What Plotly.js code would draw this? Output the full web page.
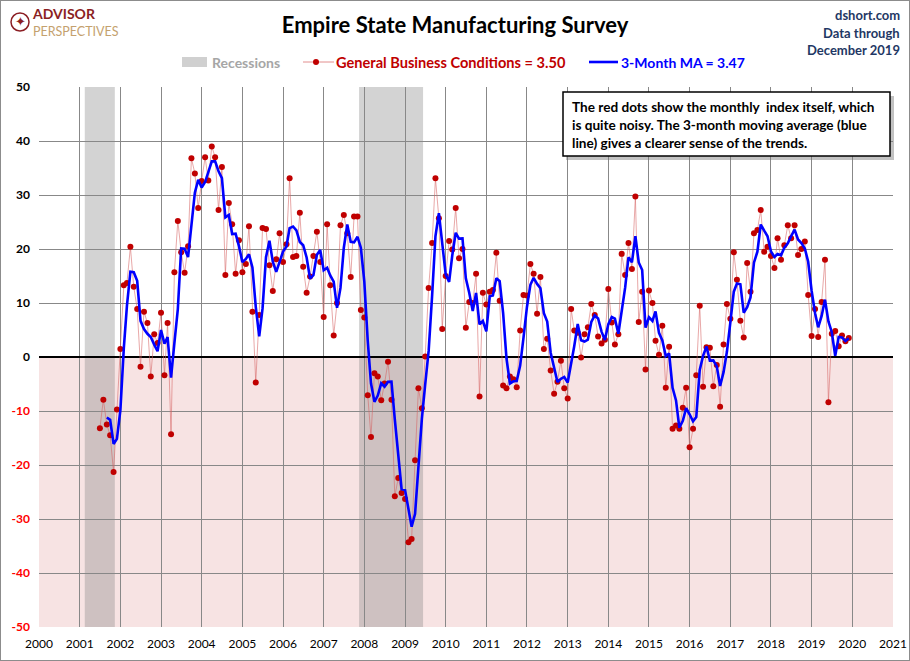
<!DOCTYPE html>
<html><head><meta charset="utf-8">
<script src="https://cdn.plot.ly/plotly-3.0.1.min.js"></script>
<style>
body{margin:0;background:#fff;}
#chart{width:908px;height:659px;border:1px solid #8c8c8c;}
</style>
</head><body><div id="chart"></div>
<script>
// General Business Conditions, monthly values (index), first series starts July 2001
const startYear = 2001, startMonth = 7;
const gbc2001 = [-13.2,-7.9,-12.5,-14.5,-21.3,-9.7];
const gbc2002 = [1.5,13.3,13.7,20.4,13.0,8.9,-1.8,8.4,6.3,-3.6,4.2,2.6];
const gbc2003 = [8.2,-3.4,6.3,-14.3,15.7,25.2,19.4,15.6,20.5,36.8,34.0,27.6];
const gbc2004 = [32.6,37.0,32.7,39.0,37.0,27.2,35.2,15.2,28.5,24.6,15.4,21.6];
const gbc2005 = [15.7,17.2,24.2,8.4,-4.7,7.8,23.9,23.7,17.0,12.2,18.1,22.9];
const gbc2006 = [17.6,20.9,33.1,18.5,18.7,26.7,16.7,11.9,14.9,18.7,23.2,17.6];
const gbc2007 = [7.4,24.6,13.3,4.0,10.0,24.4,26.3,22.9,14.8,26.0,26.0,8.7];
const gbc2008 = [7.3,-7.1,-14.8,-3.0,-3.6,-8.0,-4.9,-0.9,-7.9,-25.8,-22.4,-25.2];
const gbc2009 = [-26.3,-34.3,-33.7,-19.1,-5.8,-9.5,0.1,12.8,21.1,33.1,25.7,5.2];
const gbc2010 = [15.0,21.5,19.9,27.6,18.3,20.0,5.4,10.2,10.0,15.4,-7.3,11.9];
const gbc2011 = [9.7,12.1,12.4,19.3,10.4,-5.3,-5.8,-3.6,-4.1,-5.6,4.9,11.5];
const gbc2012 = [11.4,17.2,15.4,8.0,14.8,1.5,3.4,-2.5,-6.8,-4.6,-0.7,-5.8];
const gbc2013 = [-7.7,8.9,4.9,4.5,-0.1,4.2,5.5,9.8,7.8,3.8,2.5,3.2];
const gbc2014 = [12.6,6.4,2.3,4.2,19.1,15.2,21.1,16.3,29.7,6.5,12.1,-2.3];
const gbc2015 = [12.3,10.0,3.0,0.4,5.8,-5.7,1.9,-13.3,-12.7,-13.3,-9.4,-5.7];
const gbc2016 = [-16.7,-13.3,-3.4,9.5,-5.5,1.8,1.7,-5.4,-1.5,-9.2,2.3,9.8];
const gbc2017 = [7.1,19.4,14.3,6.7,3.6,17.4,12.1,22.9,23.5,27.2,19.5,20.4];
const gbc2018 = [18.7,16.5,22.0,18.0,20.7,24.4,22.0,24.4,18.9,20.0,21.4,11.5];
const gbc2019 = [3.9,8.9,3.7,10.2,18.0,-8.4,4.3,4.8,2.0,4.0,2.9,3.5];

// Recession periods
const recessionStarts = ['2001-02-15','2007-11-15'];
const recessionEnds   = ['2001-11-12','2009-06-12'];

// Axis ticks
const yTickVals = [-50,-40,-30,-20,-10,0,10,20,30,40,50];

// Text
const titleText = 'Empire State Manufacturing Survey';
const legendRec = 'Recessions';
const legendGbc = 'General Business Conditions = 3.50';
const legendMa = '3-Month MA = 3.47';
const sourceLines = ['dshort.com','Data through','December 2019'];
const noteLines = ['The red dots show the monthly  index itself, which',
                   'is quite noisy. The 3-month moving average (blue',
                   'line) gives a clearer sense of the trends.'];

// ---- build series ----
const values = [].concat(gbc2001,gbc2002,gbc2003,gbc2004,gbc2005,gbc2006,gbc2007,gbc2008,gbc2009,gbc2010,
  gbc2011,gbc2012,gbc2013,gbc2014,gbc2015,gbc2016,gbc2017,gbc2018,gbc2019);
const dates = values.map((v,i)=>{
  const m0 = (startMonth-1)+i;
  const y = startYear + Math.floor(m0/12);
  const m = (m0%12)+1;
  return y + '-' + String(m).padStart(2,'0') + '-01';
});
// 3-month trailing moving average of the monthly values
const ma3 = values.map((v,i)=> i<2 ? null : (values[i-2]+values[i-1]+values[i])/3);

const FONT = 'Lato, "Open Sans", Arial, sans-serif';
const L=38, R=16, T=86, B=33, W=908, H=659;
const pw = W-L-R, ph = H-T-B;
const px = x => (x-1-L)/pw;
const py = y => 1-(y-1-T)/ph;

const yTickText = yTickVals.map(v => v<0 ? '<span style="color:#FF0000"><b>'+v+'</b></span>' : '<b>'+v+'</b>');

const traces = [
  {x:dates, y:values, type:'scatter', mode:'lines+markers',
   line:{color:'rgba(214,96,96,0.55)', width:1},
   marker:{color:'#C00000', size:6}, hoverinfo:'skip'},
  {x:dates, y:ma3, type:'scatter', mode:'lines',
   line:{color:'#0000FF', width:2.6}, hoverinfo:'skip'}
];

const shapes = [
  {type:'rect', layer:'below', xref:'paper', yref:'y', x0:0, x1:1, y0:-50, y1:0,
   fillcolor:'#F7E3E3', line:{width:0}}
];
recessionStarts.forEach((s,i)=>{
  shapes.push({type:'rect', layer:'below', xref:'x', yref:'paper', x0:s, x1:recessionEnds[i], y0:0, y1:1,
    fillcolor:'rgba(140,140,140,0.38)', line:{width:0}});
});
// legend marks
shapes.push({type:'rect', xref:'paper', yref:'paper', x0:px(182), x1:px(207), y0:py(67), y1:py(57),
  fillcolor:'#D0D0D0', line:{width:0}});
shapes.push({type:'line', xref:'paper', yref:'paper', x0:px(303), x1:px(334), y0:py(62), y1:py(62),
  line:{color:'rgba(214,96,96,0.7)', width:1}});
shapes.push({type:'circle', xref:'paper', yref:'paper', x0:px(313), x1:px(319), y0:py(65), y1:py(59),
  fillcolor:'#C00000', line:{width:0}});
shapes.push({type:'line', xref:'paper', yref:'paper', x0:px(589), x1:px(618), y0:py(62), y1:py(62),
  line:{color:'#0000FF', width:2.6}});
// note box with shadow
shapes.push({type:'rect', xref:'paper', yref:'paper', x0:px(566), x1:px(894), y0:py(160), y1:py(96),
  fillcolor:'rgba(120,120,120,0.45)', line:{width:0}});
shapes.push({type:'rect', xref:'paper', yref:'paper', x0:px(563), x1:px(890), y0:py(156), y1:py(92),
  fillcolor:'#FFFFFF', line:{color:'#000', width:1.5}});
// logo circle
shapes.push({type:'circle', xref:'paper', yref:'paper', x0:px(11), x1:px(29), y0:py(31), y1:py(13),
  fillcolor:'rgba(0,0,0,0)', line:{color:'#8B1E23', width:1.5}});

const annotations = [];
const ann = (text,x,y,opts) => annotations.push(Object.assign({text:text, x:px(x), y:py(y), xref:'paper', yref:'paper',
  showarrow:false, xanchor:'left', yanchor:'middle'}, opts||{}));

ann('<b>'+legendRec+'</b>', 210, 62, {font:{family:FONT, size:14, color:'#A6A6A6'}});
ann('<b>'+legendGbc+'</b>', 334, 62, {font:{family:FONT, size:14.6, color:'#C00000'}});
ann('<b>'+legendMa+'</b>', 619, 62, {font:{family:FONT, size:14, color:'#0000FF'}});
sourceLines.forEach((t,i)=> ann('<b>'+t+'</b>', 902, [15,33,50][i], {xanchor:'right', font:{family:FONT, size:13, color:'#1F3864'}}));
noteLines.forEach((t,i)=> ann('<b>'+t+'</b>', 570, [107,125,143][i], {font:{family:FONT, size:13.6, color:'#000'}}));
ann('<span style="color:#8B1E23;font-size:14px"><b>ADVISOR</b></span><br><span style="color:#C4A16E;font-size:12.5px">PERSPECTIVES</span>',
  31, 22, {align:'left', borderpad:0, font:{family:FONT, size:13, color:'#8B1E23'}});
ann('✦', 20, 22, {xanchor:'center', font:{family:'DejaVu Sans', size:13, color:'#8B1E23'}});

const layout = {
  width:W, height:H,
  margin:{l:L, r:R, t:T, b:B, pad:0},
  paper_bgcolor:'#FFFFFF', plot_bgcolor:'#FFFFFF',
  showlegend:false, hovermode:false,
  title:{text:'<b>'+titleText+'</b>', font:{family:FONT, size:22, color:'#000'},
    x:0.5, xref:'container', xanchor:'center', y:1-24/H, yref:'container', yanchor:'middle'},
  xaxis:{type:'date', range:['2000-01-01','2021-01-01'], tick0:'2000-01-01', dtick:'M12', tickformat:'%Y',
    showgrid:true, gridcolor:'#888888', gridwidth:1, zeroline:false, showline:false, ticks:'',
    tickfont:{family:FONT, size:12, color:'#000'}, ticklabelstandoff:8, fixedrange:true},
  yaxis:{range:[-50,50], tickmode:'array', tickvals:yTickVals, ticktext:yTickText,
    showgrid:true, gridcolor:'#888888', gridwidth:1, zeroline:true, zerolinecolor:'#000', zerolinewidth:2,
    showline:false, ticks:'', tickfont:{family:FONT, size:12, color:'#000'}, ticklabelstandoff:8, fixedrange:true},
  shapes:shapes, annotations:annotations
};

Plotly.newPlot('chart', traces, layout, {displayModeBar:false, staticPlot:true});
</script></body></html>
